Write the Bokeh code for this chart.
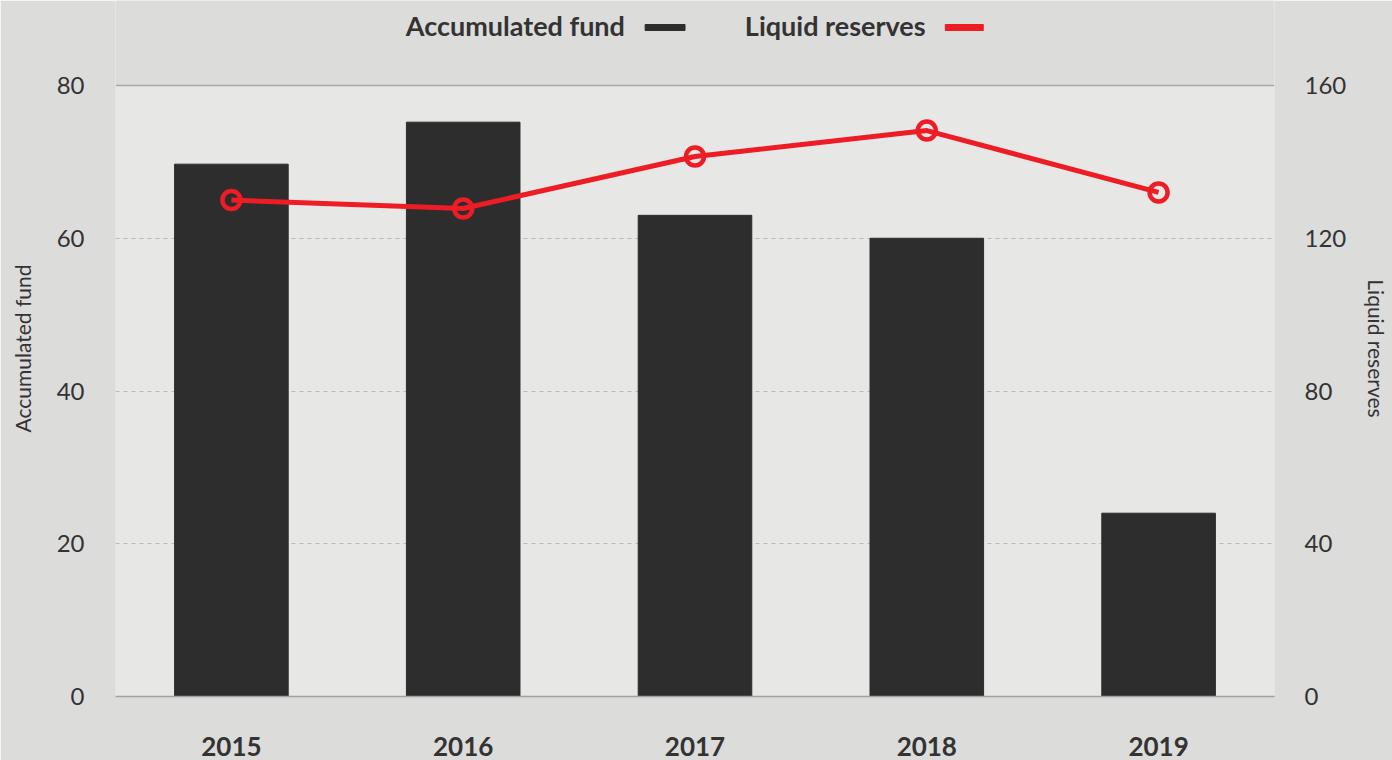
from bokeh.plotting import figure
from bokeh.models import Range1d, LinearAxis, FixedTicker, Span, ColumnDataSource, BoxAnnotation
from bokeh.core.properties import value
from bokeh.embed import file_html
from bokeh.resources import INLINE

years = ["2015", "2016", "2017", "2018", "2019"]
accumulated_fund = [69.7, 75.2, 63, 60, 24]
liquid_reserves = [130, 127.8, 141.4, 148.2, 132]
left_ticks = [0, 20, 40, 60, 80]
right_ticks = [0, 40, 80, 120, 160]
legend_labels = ["Accumulated fund", "Liquid reserves"]

BG = "#dcdcdb"
PLOT_BG = "#e7e7e5"
BAR = "#2d2d2d"
RED = "#ee1c25"
TXT = "#333333"
FONT = "Lato"

W, H = 1392, 760
FL, FR, FB = 115, 1277, 696     # frame edges in page pixels (frame top is the page top)
PLOT_TOP = 85                   # page y of the value 80
YMAX, RMAX = 80, 160
ytop = YMAX * FB / (FB - PLOT_TOP)     # left range end so that 80 sits at PLOT_TOP
rtop = RMAX * FB / (FB - PLOT_TOP)
NCAT = len(years)

def sx(px):
    """page pixel x -> synthetic categorical coordinate"""
    return (px - FL) / (FR - FL) * NCAT

def sw(pw):
    return pw / (FR - FL) * NCAT

src = ColumnDataSource(dict(year=years, fund=accumulated_fund, reserves=liquid_reserves))

p = figure(width=W, height=H, x_range=years, y_range=Range1d(0, ytop),
           toolbar_location=None, output_backend="svg",
           min_border_left=FL, min_border_right=W - FR, min_border_top=0, min_border_bottom=H - FB)
p.extra_y_ranges = {"right": Range1d(0, rtop), "py": Range1d(FB, 0)}
p.background_fill_color = BG
p.border_fill_color = BG
p.outline_line_color = None

# plot-area background (0..80 only)
p.add_layout(BoxAnnotation(bottom=0, top=YMAX, fill_color=PLOT_BG, fill_alpha=1,
                           line_color=None, level="image"))

p.xgrid.visible = False
p.ygrid.ticker = FixedTicker(ticks=[20, 40, 60])
p.ygrid.grid_line_color = "#b9b9b9"
p.ygrid.grid_line_dash = "4 4"
p.ygrid.grid_line_width = 1
p.add_layout(Span(location=YMAX, dimension="width", line_color="#a9a9a9", line_width=1.5))

p.vbar(x="year", top="fund", width=0.49, color=BAR, source=src)
p.line(x="year", y="reserves", y_range_name="right", line_color=RED, line_width=5, source=src)
p.scatter(x="year", y="reserves", y_range_name="right", size=18, marker="circle",
          line_color=RED, line_width=4.5, fill_color=None, source=src)

# legend (text followed by swatch), placed in page pixels
p.text(x=[sx(406), sx(746)], y=[25, 25], text=legend_labels, y_range_name="py",
       text_font=value(FONT), text_font_style="bold", text_font_size="27px",
       text_color=TXT, text_baseline="middle", text_align="left")
p.rect(x=[sx(666)], y=[27], width=sw(40), height=6, color=BAR, y_range_name="py")
p.rect(x=[sx(966)], y=[27], width=sw(38), height=6, color=RED, y_range_name="py")

# x axis
xa = p.xaxis[0]
xa.axis_line_color = "#a0a0a0"
xa.axis_line_width = 1.5
xa.major_tick_line_color = None
xa.minor_tick_line_color = None
xa.major_label_standoff = 34
xa.major_label_text_font = FONT
xa.major_label_text_font_style = "bold"
xa.major_label_text_font_size = "26px"
xa.major_label_text_color = TXT

# left axis
ya = p.yaxis[0]
ya.ticker = FixedTicker(ticks=left_ticks)
ya.axis_line_color = None
ya.major_tick_line_color = None
ya.minor_tick_line_color = None
ya.major_label_standoff = 25
ya.major_label_text_font = FONT
ya.major_label_text_font_size = "24px"
ya.major_label_text_color = TXT
ya.axis_label = "Accumulated fund"
ya.axis_label_text_font = FONT
ya.axis_label_text_font_style = "normal"
ya.axis_label_text_font_size = "21px"
ya.axis_label_text_color = TXT
ya.axis_label_standoff = 19

# right axis
ra = LinearAxis(y_range_name="right", ticker=FixedTicker(ticks=right_ticks))
ra.axis_line_color = None
ra.major_tick_line_color = None
ra.minor_tick_line_color = None
ra.major_label_standoff = 24
ra.major_label_text_font = FONT
ra.major_label_text_font_size = "24px"
ra.major_label_text_color = TXT
ra.axis_label = "Liquid reserves"
ra.axis_label_text_font = FONT
ra.axis_label_text_font_style = "normal"
ra.axis_label_text_font_size = "21px"
ra.axis_label_text_color = TXT
ra.axis_label_standoff = 15
p.add_layout(ra, "right")

open("out.html", "w").write(file_html(p, INLINE))
